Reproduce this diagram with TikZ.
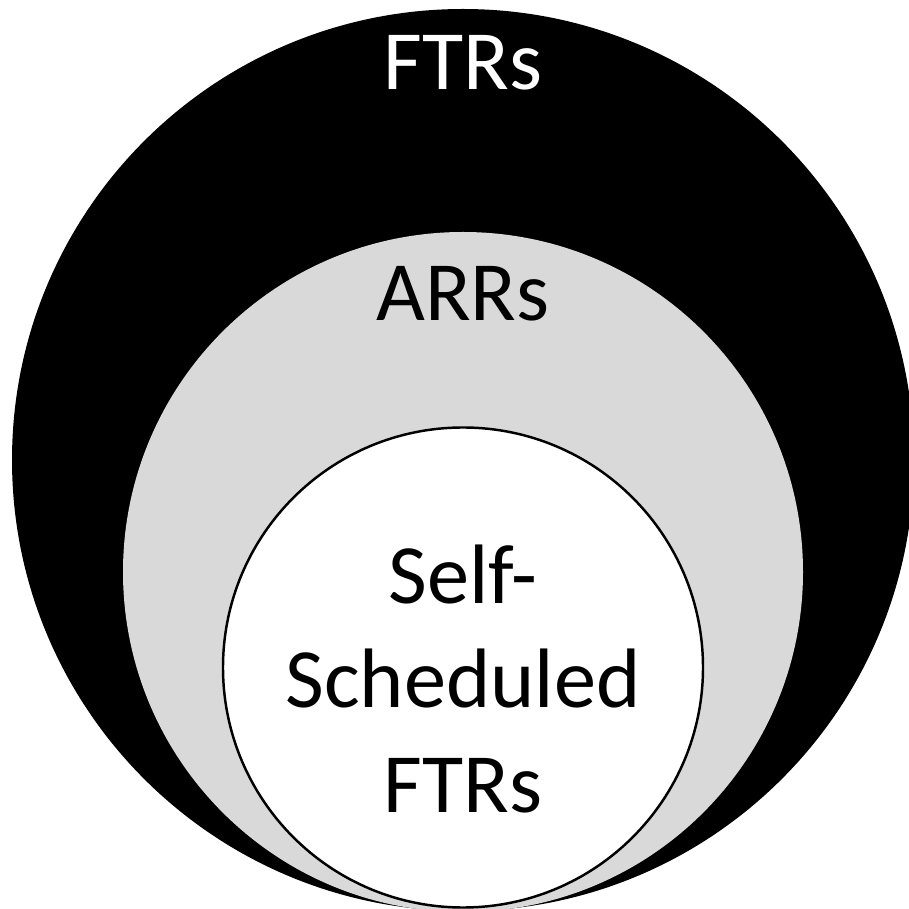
\documentclass[tikz,border=0pt]{standalone}
\usepackage{fontspec}
\setmainfont{Carlito}
\definecolor{arrgray}{HTML}{D9D9D9}

\begin{document}
\begin{tikzpicture}[x=1cm, y=1cm,
    lbl/.style={font=\fontsize{24}{29.7}\selectfont, inner sep=0pt, align=center}]

  \def\cx{4.63};

  \useasboundingbox (0,0) rectangle (9.09,9.09);
  \clip (0,0) rectangle (9.09,9.09);

	%draw rings
  \fill[black] (\cx, 4.49) circle (4.51);
  \fill[arrgray] (\cx, 3.37) circle (3.40);
  \draw[fill=white, line width=0.7pt] (\cx, 2.415) circle (2.40);

	%labels
  \node[lbl, text=white, anchor=base] (ftr) at (\cx, 8.19) {FTRs};
  \node[lbl, anchor=base] (arr) at (\cx, 5.88) {ARRs};
  \node[lbl] (self) at (\cx, 2.30) {Self-\\Scheduled\\FTRs};

\end{tikzpicture}
\end{document}
